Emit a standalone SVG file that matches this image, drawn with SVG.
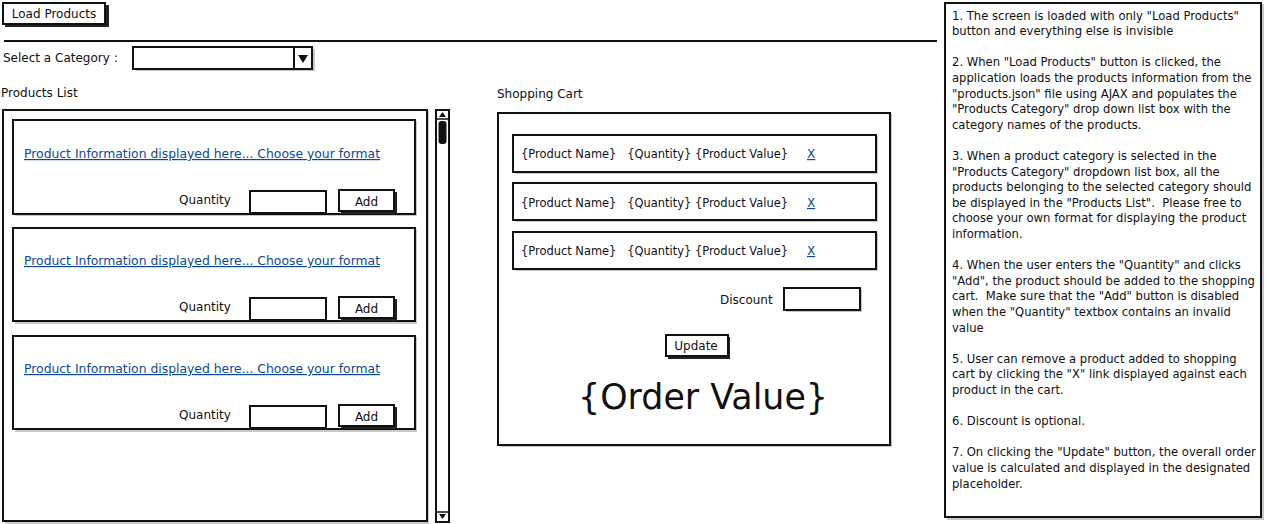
<svg xmlns="http://www.w3.org/2000/svg" width="1265" height="524" viewBox="0 0 1265 524">
<style>
text{font-family:"DejaVu Sans","Liberation Sans",sans-serif;fill:#111;font-size:12px;white-space:pre}
.box{fill:#fff;stroke:#111;stroke-width:2}
.shadow{fill:#c8c8c8}
.btnsh{fill:#222}
.link{fill:#0b4a94;text-decoration:underline}
.note{font-size:11.6px}
.big{font-size:36px}
</style>
<rect width="1265" height="524" fill="#fff"/>

<g id="load-products">
<rect class="btnsh" x="5" y="5" width="104" height="22"/>
<rect class="box" x="3" y="3" width="102" height="21"/>
<text x="54" y="18" text-anchor="middle">Load Products</text>
</g>

<g id="divider">
<line x1="4" y1="41" x2="937" y2="41" stroke="#111" stroke-width="2"/>
</g>

<g id="category">
<text x="3" y="62">Select a Category :</text>
<rect class="shadow" x="135" y="49" width="180" height="22"/>
<rect class="box" x="133" y="47" width="179" height="22"/>
<line x1="294" y1="47" x2="294" y2="69" stroke="#111" stroke-width="2"/>
<path d="M298,55 L308,55 L303,63 Z" fill="#111"/>
</g>

<g id="products-list">
<text x="1" y="97">Products List</text>
<rect class="shadow" x="5" y="111" width="424" height="413"/>
<rect class="box" x="3" y="110" width="424" height="411"/>
</g>

<g id="scrollbar">
<rect class="box" x="436" y="110" width="13" height="412"/>
<line x1="436" y1="119" x2="449" y2="119" stroke="#111" stroke-width="1.5"/>
<path d="M439,117 L446,117 L442.5,112 Z" fill="#111"/>
<rect x="438.5" y="121" width="8" height="23" rx="3" fill="#111"/>
<line x1="436" y1="512" x2="449" y2="512" stroke="#111" stroke-width="1.5"/>
<path d="M439,514 L446,514 L442.5,519 Z" fill="#111"/>
</g>

<g id="product-1">
<rect class="shadow" x="15" y="121" width="402" height="95"/>
<rect class="box" x="13" y="120" width="402" height="94"/>
<text class="link" x="24" y="158" textLength="356" lengthAdjust="spacingAndGlyphs">Product Information displayed here... Choose your format</text>
<text x="179" y="204">Quantity</text>
<rect class="box" x="250" y="191" width="76" height="22"/>
<rect class="btnsh" x="341" y="192" width="56" height="22"/>
<rect class="box" x="339" y="190" width="55" height="21"/>
<text x="366.5" y="206" text-anchor="middle">Add</text>
</g>

<g id="product-2">
<rect class="shadow" x="15" y="229" width="402" height="95"/>
<rect class="box" x="13" y="228" width="402" height="93"/>
<text class="link" x="24" y="265" textLength="356" lengthAdjust="spacingAndGlyphs">Product Information displayed here... Choose your format</text>
<text x="179" y="311">Quantity</text>
<rect class="box" x="250" y="298" width="76" height="22"/>
<rect class="btnsh" x="341" y="299" width="56" height="22"/>
<rect class="box" x="339" y="297" width="55" height="21"/>
<text x="366.5" y="313" text-anchor="middle">Add</text>
</g>

<g id="product-3">
<rect class="shadow" x="15" y="337" width="402" height="95"/>
<rect class="box" x="13" y="336" width="402" height="93"/>
<text class="link" x="24" y="373" textLength="356" lengthAdjust="spacingAndGlyphs">Product Information displayed here... Choose your format</text>
<text x="179" y="419">Quantity</text>
<rect class="box" x="250" y="406" width="76" height="22"/>
<rect class="btnsh" x="341" y="407" width="56" height="22"/>
<rect class="box" x="339" y="405" width="55" height="21"/>
<text x="366.5" y="421" text-anchor="middle">Add</text>
</g>

<g id="shopping-cart">
<text x="497" y="98">Shopping Cart</text>
<rect class="shadow" x="500" y="114" width="392" height="333"/>
<rect class="box" x="498" y="113" width="392" height="332"/>
</g>

<g id="cart-row-1">
<rect class="shadow" x="515" y="136" width="363" height="38"/>
<rect class="box" x="513" y="135" width="363" height="37"/>
<text x="521" y="158" textLength="267" lengthAdjust="spacingAndGlyphs">{Product Name}   {Quantity} {Product Value}</text>
<text class="link" x="807" y="158">X</text>
</g>
<g id="cart-row-2">
<rect class="shadow" x="515" y="184" width="363" height="38"/>
<rect class="box" x="513" y="183" width="363" height="37"/>
<text x="521" y="207" textLength="267" lengthAdjust="spacingAndGlyphs">{Product Name}   {Quantity} {Product Value}</text>
<text class="link" x="807" y="207">X</text>
</g>
<g id="cart-row-3">
<rect class="shadow" x="515" y="233" width="363" height="38"/>
<rect class="box" x="513" y="232" width="363" height="37"/>
<text x="521" y="255" textLength="267" lengthAdjust="spacingAndGlyphs">{Product Name}   {Quantity} {Product Value}</text>
<text class="link" x="807" y="255">X</text>
</g>

<g id="discount">
<text x="720" y="304">Discount</text>
<rect class="shadow" x="786" y="289" width="76" height="23"/>
<rect class="box" x="784" y="288" width="76" height="22"/>
</g>

<g id="update">
<rect class="btnsh" x="668" y="337" width="62" height="22"/>
<rect class="box" x="666" y="335" width="62" height="21"/>
<text x="696" y="350" text-anchor="middle">Update</text>
</g>

<g id="order-value">
<text class="big" x="578" y="409" textLength="250" lengthAdjust="spacingAndGlyphs">{Order Value}</text>
</g>

<g id="notes">
<rect class="shadow" x="947" y="4" width="317" height="516"/>
<rect class="box" x="945" y="3" width="316" height="514"/>
<text class="note" x="952" y="19.5">
<tspan x="952" dy="0">1. The screen is loaded with only "Load Products"</tspan>
<tspan x="952" dy="15.6">button and everything else is invisible</tspan>
<tspan x="952" dy="31.2">2. When "Load Products" button is clicked, the</tspan>
<tspan x="952" dy="15.6">application loads the products information from the</tspan>
<tspan x="952" dy="15.6">"products.json" file using AJAX and populates the</tspan>
<tspan x="952" dy="15.6">"Products Category" drop down list box with the</tspan>
<tspan x="952" dy="15.6">category names of the products.</tspan>
<tspan x="952" dy="31.2">3. When a product category is selected in the</tspan>
<tspan x="952" dy="15.6">"Products Category" dropdown list box, all the</tspan>
<tspan x="952" dy="15.6">products belonging to the selected category should</tspan>
<tspan x="952" dy="15.6">be displayed in the "Products List".  Please free to</tspan>
<tspan x="952" dy="15.6">choose your own format for displaying the product</tspan>
<tspan x="952" dy="15.6">information.</tspan>
<tspan x="952" dy="31.2">4. When the user enters the "Quantity" and clicks</tspan>
<tspan x="952" dy="15.6">"Add", the product should be added to the shopping</tspan>
<tspan x="952" dy="15.6">cart.  Make sure that the "Add" button is disabled</tspan>
<tspan x="952" dy="15.6">when the "Quantity" textbox contains an invalid</tspan>
<tspan x="952" dy="15.6">value</tspan>
<tspan x="952" dy="31.2">5. User can remove a product added to shopping</tspan>
<tspan x="952" dy="15.6">cart by clicking the "X" link displayed against each</tspan>
<tspan x="952" dy="15.6">product in the cart.</tspan>
<tspan x="952" dy="31.2">6. Discount is optional.</tspan>
<tspan x="952" dy="31.2">7. On clicking the "Update" button, the overall order</tspan>
<tspan x="952" dy="15.6">value is calculated and displayed in the designated</tspan>
<tspan x="952" dy="15.6">placeholder.</tspan>
</text>
</g>
</svg>
